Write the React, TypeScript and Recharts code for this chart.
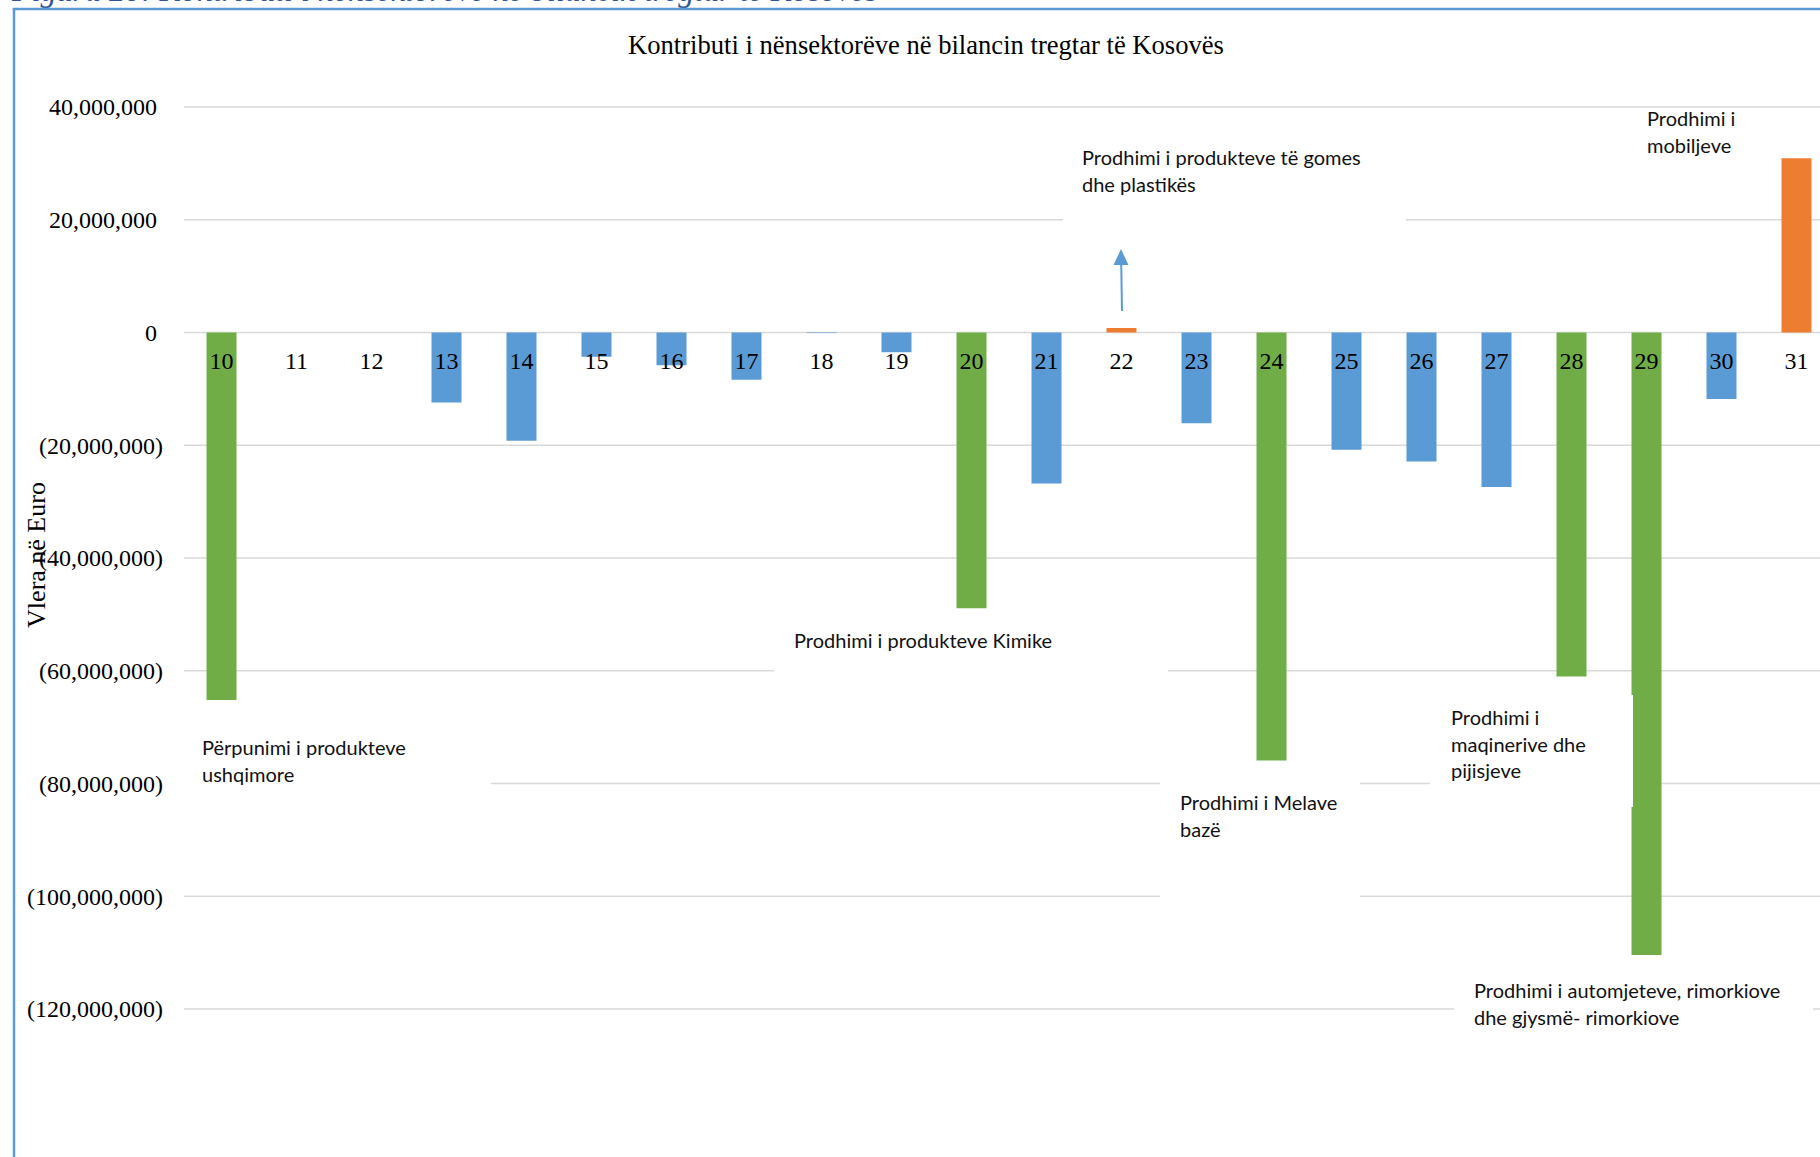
import React from 'react';
import { ComposedChart, Bar, Line, XAxis, YAxis, CartesianGrid, Cell, LabelList } from 'recharts';

// ---- data ----
const codes = ['10', '11', '12', '13', '14', '15', '16', '17', '18', '19', '20', '21', '22', '23', '24', '25', '26', '27', '28', '29', '30', '31'];
const values = [
  -65200000, 0, 0, -12400000, -19200000, -4300000, -5800000, -8400000, -100000, -3500000,
  -48900000, -26800000, 800000, -16100000, -75900000, -20800000, -22900000, -27400000,
  -61000000, -110400000, -11800000, 30900000,
];
const groups = [
  'key', 'other', 'other', 'other', 'other', 'other', 'other', 'other', 'other', 'other',
  'key', 'other', 'pos', 'other', 'key', 'other', 'other', 'other',
  'key', 'key', 'other', 'pos',
];
const yTicks = [40000000, 20000000, 0, -20000000, -40000000, -60000000, -80000000, -100000000, -120000000];
const chartTitle = 'Kontributi i nënsektorëve në bilancin tregtar të Kosovës';
const yTitle = 'Vlera në Euro';
const caption = 'Figura 20: Kontributi i nënsektorëve në bilancin tregtar të Kosovës';
const noteTexts = [
  ['Përpunimi i produkteve', 'ushqimore'],
  ['Prodhimi i produkteve Kimike'],
  ['Prodhimi i produkteve të gomes', 'dhe plastikës'],
  ['Prodhimi i', 'mobiljeve'],
  ['Prodhimi i Melave', 'bazë'],
  ['Prodhimi i', 'maqinerive dhe', 'pijisjeve'],
  ['Prodhimi i automjeteve, rimorkiove', 'dhe gjysmë- rimorkiove'],
];

// ---- layout / styles ----
const groupColors: Record<string, string> = { key: '#70AD47', other: '#5B9BD5', pos: '#ED7D31' };
const SERIF = "'Liberation Serif', 'Times New Roman', serif";
const SANS = "Lato, 'Noto Sans', sans-serif";
const noteLayout = [
  { x: 202, y: 755, box: [178, 728, 491, 800] },
  { x: 794, y: 648, box: [774, 615, 1168, 690] },
  { x: 1082, y: 165, box: [1063, 130, 1406, 232] },
  { x: 1647, y: 126, box: null },
  { x: 1180, y: 810, box: [1160, 768, 1360, 905] },
  { x: 1451, y: 725, box: [1430, 695, 1633, 807] },
  { x: 1474, y: 998, box: [1454, 965, 1813, 1045] },
];
const LINE_GAP = 26.5;

// the category labels sit on the zero line, so a hidden zero-valued line carries them
const data = codes.map((c, i) => ({ code: c, value: values[i], group: groups[i], axis: 0 }));

const fmt = (v: number) => {
  const s = Math.abs(v).toLocaleString('en-US');
  return v < 0 ? `(${s})` : s;
};

const YTick = (props: any) => {
  const { x, y, payload } = props;
  const v = Number(payload.value);
  return (
    <text x={v < 0 ? x : x - 6} y={y} dy="0.35em" textAnchor="end" fontFamily={SERIF} fontSize={24} fill="#000">
      {fmt(v)}
    </text>
  );
};

const CodeLabel = (props: any) => {
  const vb = props.viewBox && props.viewBox.x !== undefined ? props.viewBox : props;
  const x = Number(props.x ?? vb.x);
  const y = Number(props.y ?? vb.y);
  return (
    <text x={x} y={y + 36} textAnchor="middle" fontFamily={SERIF} fontSize={24} fill="#000">
      {props.value}
    </text>
  );
};

export default function App() {
  return (
    <div style={{ position: 'absolute', left: 0, top: 0, width: 1820, height: 1157, overflow: 'hidden', background: '#fff' }}>
      <div style={{ position: 'absolute', left: 0, top: 0 }}>
        <ComposedChart
          width={1834}
          height={1157}
          data={data}
          margin={{ top: 107, right: 0, bottom: 148, left: 0 }}
          barCategoryGap="30%"
        >
          <CartesianGrid vertical={false} stroke="#D9D9D9" strokeWidth={1.3} />
          <XAxis dataKey="code" hide />
          <YAxis
            type="number"
            domain={[-120000000, 40000000]}
            ticks={yTicks}
            interval={0}
            width={184}
            axisLine={false}
            tickLine={false}
            tickSize={0}
            tickMargin={21}
            tick={<YTick />}
            allowDataOverflow
          />
          <Bar dataKey="value" isAnimationActive={false}>
            {data.map((d, i) => (
              <Cell key={i} fill={groupColors[d.group]} />
            ))}
          </Bar>
          <Line
            dataKey="axis"
            stroke="none"
            dot={false}
            activeDot={false}
            isAnimationActive={false}
            legendType="none"
          >
            <LabelList dataKey="code" content={<CodeLabel />} />
          </Line>
        </ComposedChart>
      </div>
      <svg width={1820} height={1157} style={{ position: 'absolute', left: 0, top: 0, pointerEvents: 'none' }}>
        <text x={12} y={1} fontFamily={SERIF} fontStyle="italic" fontSize={32} fill="#2F5597">{caption}</text>
        <line x1={12.8} y1={9} x2={1820} y2={9} stroke="#5B9BD5" strokeWidth={2.5} />
        <line x1={14} y1={8} x2={14} y2={1157} stroke="#5B9BD5" strokeWidth={2.5} />
        <text x={926} y={54} textAnchor="middle" fontFamily={SERIF} fontSize={26.6} fill="#000">{chartTitle}</text>
        <text transform="translate(45,555) rotate(-90)" textAnchor="middle" fontFamily={SERIF} fontSize={26} fill="#000">{yTitle}</text>
        {noteLayout.map((n, i) => (
          <g key={i}>
            {n.box && (
              <rect x={n.box[0]} y={n.box[1]} width={n.box[2] - n.box[0]} height={n.box[3] - n.box[1]} fill="#fff" />
            )}
            {noteTexts[i].map((t, j) => (
              <text key={j} x={n.x} y={n.y + j * LINE_GAP} fontFamily={SANS} fontSize={20} fill="#111">{t}</text>
            ))}
          </g>
        ))}
        <line x1={1122} y1={311} x2={1121.2} y2={262} stroke="#5B9BD5" strokeWidth={2} />
        <polygon points="1121,249 1113.5,265 1128.5,265" fill="#5B9BD5" />
      </svg>
    </div>
  );
}
